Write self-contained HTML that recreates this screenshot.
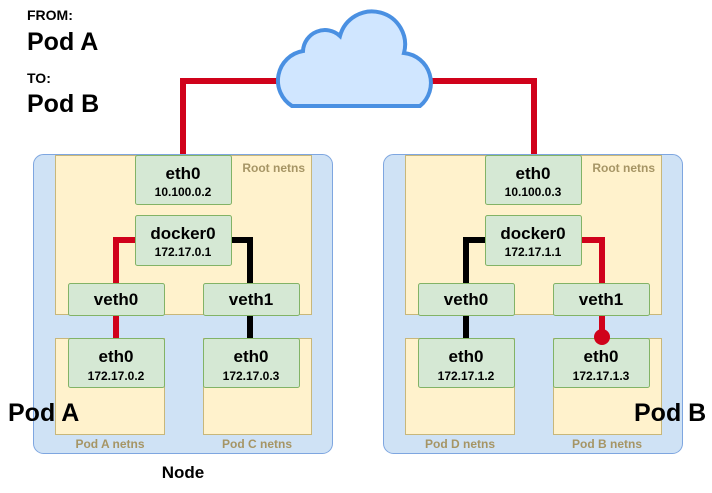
<!DOCTYPE html>
<html><head><meta charset="utf-8"><style>
body{margin:0;background:#fff;}
svg text{font-family:"Liberation Sans",sans-serif;font-weight:bold;}
</style></head><body>
<svg width="712" height="488" xmlns="http://www.w3.org/2000/svg">
<polyline points="183,155 183,81 290,81" fill="none" stroke="#d0021b" stroke-width="6"/>
<polyline points="534,155 534,81 430,81" fill="none" stroke="#d0021b" stroke-width="6"/>
<path d="M292,106 A30,30 0 0 1 303,51 A22,22 0 0 1 340,36 A33,33 0 0 1 404,53 A30,30 0 0 1 420,106 Z" fill="#d0e6ff" stroke="#4a90e2" stroke-width="4"/>

<text x="27" y="20" font-size="14">FROM:</text>
<text x="27" y="50" font-size="25">Pod A</text>
<text x="27" y="83" font-size="14">TO:</text>
<text x="27" y="112" font-size="25">Pod B</text>

<g>
<rect x="33.5" y="154.5" width="299" height="299" rx="10" fill="#cfe2f5" stroke="#7ea6e0"/>
<rect x="55.5" y="155.5" width="256" height="159" fill="#fff2cc" stroke="#c8b77a"/>
<rect x="55.5" y="338.5" width="109" height="96" fill="#fff2cc" stroke="#c8b77a"/>
<rect x="203.5" y="338.5" width="108" height="96" fill="#fff2cc" stroke="#c8b77a"/>
<text x="305" y="172" font-size="12" fill="#a69565" text-anchor="end">Root netns</text>
<text x="110" y="448" font-size="12" fill="#a69565" text-anchor="middle">Pod A netns</text>
<text x="257" y="448" font-size="12" fill="#a69565" text-anchor="middle">Pod C netns</text>
<polyline points="135,240 116,240 116,338" fill="none" stroke="#d0021b" stroke-width="6"/>
<polyline points="231,240 250,240 250,338" fill="none" stroke="#000" stroke-width="6"/>
<rect x="135.5" y="155.5" width="96" height="49" rx="2" fill="#d5e8d4" stroke="#82b366"/>
<rect x="135.5" y="215.5" width="96" height="50" rx="2" fill="#d5e8d4" stroke="#82b366"/>
<rect x="68.5" y="283.5" width="96" height="32" rx="2" fill="#d5e8d4" stroke="#82b366"/>
<rect x="203.5" y="283.5" width="96" height="32" rx="2" fill="#d5e8d4" stroke="#82b366"/>
<rect x="68.5" y="338.5" width="96" height="49" rx="2" fill="#d5e8d4" stroke="#82b366"/>
<rect x="203.5" y="338.5" width="96" height="49" rx="2" fill="#d5e8d4" stroke="#82b366"/>
<text x="183" y="179" font-size="17" text-anchor="middle">eth0</text>
<text x="183" y="196" font-size="12" text-anchor="middle">10.100.0.2</text>
<text x="183" y="239" font-size="17" text-anchor="middle">docker0</text>
<text x="183" y="256" font-size="12" text-anchor="middle">172.17.0.1</text>
<text x="116" y="305" font-size="17" text-anchor="middle">veth0</text>
<text x="251" y="305" font-size="17" text-anchor="middle">veth1</text>
<text x="116" y="362" font-size="17" text-anchor="middle">eth0</text>
<text x="116" y="380" font-size="12" text-anchor="middle">172.17.0.2</text>
<text x="251" y="362" font-size="17" text-anchor="middle">eth0</text>
<text x="251" y="380" font-size="12" text-anchor="middle">172.17.0.3</text>
</g>

<g transform="translate(350,0)">
<rect x="33.5" y="154.5" width="299" height="299" rx="10" fill="#cfe2f5" stroke="#7ea6e0"/>
<rect x="55.5" y="155.5" width="256" height="159" fill="#fff2cc" stroke="#c8b77a"/>
<rect x="55.5" y="338.5" width="109" height="96" fill="#fff2cc" stroke="#c8b77a"/>
<rect x="203.5" y="338.5" width="108" height="96" fill="#fff2cc" stroke="#c8b77a"/>
<text x="305" y="172" font-size="12" fill="#a69565" text-anchor="end">Root netns</text>
<text x="110" y="448" font-size="12" fill="#a69565" text-anchor="middle">Pod D netns</text>
<text x="257" y="448" font-size="12" fill="#a69565" text-anchor="middle">Pod B netns</text>
<polyline points="135,240 116,240 116,338" fill="none" stroke="#000" stroke-width="6"/>
<polyline points="231,240 252,240 252,336" fill="none" stroke="#d0021b" stroke-width="6"/>
<rect x="135.5" y="155.5" width="96" height="49" rx="2" fill="#d5e8d4" stroke="#82b366"/>
<rect x="135.5" y="215.5" width="96" height="50" rx="2" fill="#d5e8d4" stroke="#82b366"/>
<rect x="68.5" y="283.5" width="96" height="32" rx="2" fill="#d5e8d4" stroke="#82b366"/>
<rect x="203.5" y="283.5" width="96" height="32" rx="2" fill="#d5e8d4" stroke="#82b366"/>
<rect x="68.5" y="338.5" width="96" height="49" rx="2" fill="#d5e8d4" stroke="#82b366"/>
<rect x="203.5" y="338.5" width="96" height="49" rx="2" fill="#d5e8d4" stroke="#82b366"/>
<circle cx="252" cy="337" r="8" fill="#d0021b"/>
<text x="183" y="179" font-size="17" text-anchor="middle">eth0</text>
<text x="183" y="196" font-size="12" text-anchor="middle">10.100.0.3</text>
<text x="183" y="239" font-size="17" text-anchor="middle">docker0</text>
<text x="183" y="256" font-size="12" text-anchor="middle">172.17.1.1</text>
<text x="116" y="305" font-size="17" text-anchor="middle">veth0</text>
<text x="251" y="305" font-size="17" text-anchor="middle">veth1</text>
<text x="116" y="362" font-size="17" text-anchor="middle">eth0</text>
<text x="116" y="380" font-size="12" text-anchor="middle">172.17.1.2</text>
<text x="251" y="362" font-size="17" text-anchor="middle">eth0</text>
<text x="251" y="380" font-size="12" text-anchor="middle">172.17.1.3</text>
</g>

<text x="8" y="421" font-size="25">Pod A</text>
<text x="634" y="421" font-size="25">Pod B</text>
<text x="183" y="478" font-size="17" text-anchor="middle">Node</text>
</svg>
</body></html>
